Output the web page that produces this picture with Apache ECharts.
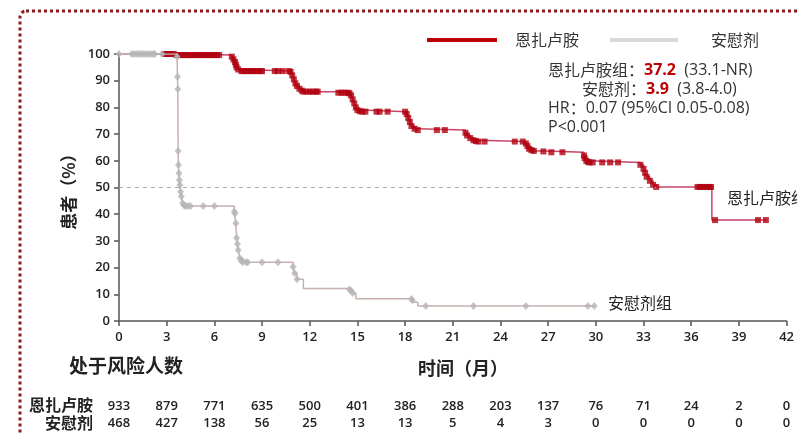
<!DOCTYPE html>
<html>
<head>
<meta charset="utf-8">
<script src="https://cdn.jsdelivr.net/npm/echarts@6/dist/echarts.min.js"></script>
<style>
html,body{margin:0;padding:0;background:#fff;}
#c{width:797px;height:434px;}
</style>
</head>
<body>
<div id="c"></div>
<script>
// ---------- DATA ----------
const xTicks = [0,3,6,9,12,15,18,21,24,27,30,33,36,39,42];
const riskEnza = [933,879,771,635,500,401,386,288,203,137,76,71,24,2,0];
const riskPlacebo = [468,427,138,56,25,13,13,5,4,3,0,0,0,0,0];

// Kaplan-Meier steps [month, % event-free after step]
const enzaCurve = [
  [0,100],[3.6,99.6],[7.1,99],[7.2,98],[7.3,97],[7.35,96],[7.4,95],[7.5,94.2],[7.7,93.6],
  [10.8,93],[10.9,92],[11.0,90.5],[11.1,89],[11.2,88],[11.35,87],[11.6,85.9],
  [14.3,85.5],[14.6,84.5],[14.7,83],[14.8,81.5],[14.9,80],[15.0,79],[15.3,78.4],
  [18.1,77.5],[18.2,76],[18.3,74.5],[18.4,73],[18.6,72],[18.8,71.5],
  [21.8,70.5],[21.9,69.5],[22.1,68.5],[22.3,67.7],[22.6,67.2],
  [25.6,66.5],[25.7,65.5],[25.8,64.5],[26.1,63.7],[26.8,63.2],
  [29.25,62],[29.3,61],[29.4,60],[29.6,59.4],
  [32.8,58.5],[33.0,57],[33.1,55.5],[33.2,54],[33.4,52.5],[33.6,51],[33.8,50.2],
  [37.3,37.8],[40.7,37.8]
];
const enzaMarks = [
  [2.85,100],[3.0,100],[3.15,100],[3.3,100],[3.45,100],[3.6,99.6],[3.75,99.6],[3.9,99.6],[4.05,99.6],
  [4.2,99.6],[4.35,99.6],[4.5,99.6],[4.65,99.6],[4.8,99.6],[4.95,99.6],[5.1,99.6],[5.25,99.6],
  [5.4,99.6],[5.55,99.6],[5.7,99.6],[5.85,99.6],[6.0,99.6],[6.15,99.6],[6.3,99.6],
  [7.1,99],[7.2,98],[7.3,97],[7.35,96],[7.4,95],[7.5,94.2],[7.7,93.6],[7.85,93.6],[8.0,93.6],
  [8.15,93.6],[8.3,93.6],[8.45,93.6],[8.6,93.6],[8.75,93.6],[8.9,93.6],[9.0,93.6],
  [9.8,93.6],[10.0,93.6],[10.3,93.6],[10.7,93.6],[10.8,93.3],
  [10.9,92],[11.0,90.5],[11.1,89],[11.2,88],[11.35,87],[11.5,86.3],[11.6,85.9],[11.8,85.9],[12.0,85.9],
  [12.2,85.9],[12.4,85.9],[12.5,85.9],[13.8,85.5],[14.0,85.5],[14.2,85.5],[14.4,85.5],[14.5,85.3],
  [14.6,84.5],[14.7,83],[14.8,81.5],[14.9,80],[15.0,79],[15.15,78.6],[15.3,78.4],[15.5,78.4],
  [16.2,78.4],[16.4,78.4],[16.9,78.4],
  [18.0,78.4],[18.1,77.5],[18.2,76],[18.3,74.5],[18.4,73],[18.6,72],[18.8,71.5],[20.0,71.5],[20.5,71.5],
  [21.8,70.5],[21.9,69.5],[22.1,68.5],[22.3,67.7],[22.45,67.4],[22.6,67.2],[23.0,67.2],[24.9,67.2],[25.4,67.2],
  [25.6,66.5],[25.7,65.5],[25.8,64.5],[25.95,64],[26.1,63.7],[26.7,63.5],[27.2,63.2],[27.9,63.2],
  [29.25,62],[29.3,61],[29.4,60],[29.5,59.6],[29.6,59.4],[29.8,59.4],[30.4,59.4],[30.9,59.4],[31.4,59.4],
  [32.8,58.5],[33.0,57],[33.1,55.5],[33.2,54],[33.4,52.5],[33.6,51],[33.8,50.2],
  [36.4,50.2],[36.55,50.2],[36.7,50.2],[36.85,50.2],[37.0,50.2],[37.15,50.2],[37.25,50.2],
  [37.5,37.8],[40.2,37.8],[40.7,37.8]
];
const placeboCurve = [
  [0,100],[3.65,99],[3.68,91.5],[3.7,86.9],[3.72,63.7],[3.74,58.4],[3.77,55.3],[3.8,52.8],
  [3.83,50.9],[3.87,48.4],[3.92,46.6],[4.0,44.1],[4.1,43.1],
  [7.25,41],[7.3,40.3],[7.35,36.6],[7.4,31.1],[7.45,28.8],[7.5,26.6],[7.6,23.5],[7.8,22.0],
  [10.95,20.3],[11.05,17.9],[11.2,15.6],[11.6,12.2],
  [14.5,11.5],[14.7,10.5],[14.9,8.3],
  [18.5,7],[18.8,5.6],[29.9,5.6]
];
const placeboMarks = [
  [0,100],[0.8,100],[0.95,100],[1.1,100],[1.25,100],[1.4,100],[1.55,100],[1.7,100],[1.85,100],
  [2.0,100],[2.15,100],[2.25,100],[2.7,100],[3.65,99],
  [3.68,91.5],[3.7,86.9],[3.72,63.7],[3.74,58.4],[3.77,55.3],[3.8,52.8],[3.83,50.9],[3.87,48.4],
  [3.92,46.6],[4.0,44.1],[4.1,43.3],[4.2,43.1],[4.35,43.1],[4.5,43.1],[5.3,43.1],[6.0,43.1],
  [7.25,41],[7.3,40.3],[7.35,36.6],[7.4,31.1],[7.45,28.8],[7.5,26.6],[7.6,23.5],[7.7,22.5],
  [7.8,22.0],[8.0,22.0],[8.1,22.0],[9.0,22.0],[10.0,22.0],
  [10.95,20.3],[11.05,17.9],[11.2,15.6],
  [14.5,11.8],[14.6,11.3],[14.7,10.5],[18.4,8.2],[18.45,7.8],
  [19.3,5.6],[22.3,5.6],[25.6,5.6],[29.5,5.6],[29.9,5.6]
];
const refLine = 50;

// ---------- CHART ----------
const cjk = '"Noto Sans CJK SC", "Noto Sans", sans-serif';
const num = '"Open Sans", "Noto Sans", sans-serif';
const chart = echarts.init(document.getElementById('c'), null, {renderer:'canvas'});

const option = {
  backgroundColor:'#ffffff',
  animation:false,
  grid:{left:119, right:9, top:54, bottom:113},
  xAxis:{
    type:'value', min:0, max:42, interval:3,
    axisLine:{show:true, lineStyle:{color:'#555', width:1.5}},
    axisTick:{show:true, length:5, lineStyle:{color:'#555', width:1.5}},
    axisLabel:{color:'#222', fontFamily:num, fontSize:13, fontWeight:600, margin:10},
    splitLine:{show:false}
  },
  yAxis:{
    type:'value', min:0, max:100, interval:10,
    name:'患者（%）', nameLocation:'middle', nameRotate:90, nameGap:41,
    nameTextStyle:{color:'#222', fontFamily:cjk, fontSize:17, fontWeight:'bold'},
    axisLine:{show:true, lineStyle:{color:'#555', width:1.5}},
    axisTick:{show:true, length:5, lineStyle:{color:'#555', width:1.5}},
    axisLabel:{color:'#222', fontFamily:num, fontSize:13, fontWeight:600, margin:9},
    splitLine:{show:false}
  },
  series:[
    {
      name:'恩扎卢胺', type:'line', step:'end', data:enzaCurve, showSymbol:false,
      lineStyle:{color:'#c8456a', width:1.5}, z:3,
      markLine:{
        silent:true, symbol:'none', label:{show:false},
        lineStyle:{color:'#aaaaaa', type:[4,4], width:1},
        data:[[{coord:[0,refLine]},{coord:[33.8,refLine]}]]
      }
    },
    {
      name:'恩扎卢胺删失', type:'scatter', data:enzaMarks, symbol:'rect', symbolSize:6,
      itemStyle:{color:'#b0000f'}, z:4
    },
    {
      name:'安慰剂', type:'line', step:'end', data:placeboCurve, showSymbol:false,
      lineStyle:{color:'#cbb0ae', width:1.5}, z:5
    },
    {
      name:'安慰剂删失', type:'scatter', data:placeboMarks, symbol:'diamond', symbolSize:[7,8],
      itemStyle:{color:'#b5b5b5'}, z:6
    }
  ]
};
chart.setOption(option);

// ---------- GRAPHICS (legend, annotations, risk table) ----------
const g = [];
// dotted border
g.push({type:'rect', shape:{x:20, y:11, width:820, height:460, r:6},
  style:{fill:'none', stroke:'#8e1b1b', lineWidth:3, lineDash:[3,3]}, silent:true, z:0});
// legend
g.push({type:'rect', shape:{x:427, y:38, width:70, height:4}, style:{fill:'#c00000'}});
g.push({type:'text', x:515, y:40, style:{text:'恩扎卢胺', font:'16px '+cjk, fill:'#333', textVerticalAlign:'middle'}});
g.push({type:'rect', shape:{x:610, y:38, width:68, height:4}, style:{fill:'#d9d9d9'}});
g.push({type:'text', x:711, y:40, style:{text:'安慰剂', font:'16px '+cjk, fill:'#333', textVerticalAlign:'middle'}});
// annotation
const rich = {
  n:{fontFamily:cjk, fontSize:16, fill:'#333', color:'#333'},
  m:{fontFamily:num, fontSize:16, fill:'#333', color:'#333'},
  r:{fontFamily:num, fontSize:16, fontWeight:'bold', fill:'#c00000', color:'#c00000'}
};
g.push({type:'text', x:548, y:70, style:{text:'{n|恩扎卢胺组：}{r|37.2}{m|  (33.1-NR)}', rich:rich, textVerticalAlign:'middle'}});
g.push({type:'text', x:582, y:89, style:{text:'{n|安慰剂：}{r|3.9}{m|  (3.8-4.0)}', rich:rich, textVerticalAlign:'middle'}});
g.push({type:'text', x:548, y:108, style:{text:'{m|HR}{n|：}{m|0.07 (95%CI 0.05-0.08)}', rich:rich, textVerticalAlign:'middle'}});
g.push({type:'text', x:548, y:127, style:{text:'{m|P<0.001}', rich:rich, textVerticalAlign:'middle'}});
// curve labels
g.push({type:'text', x:727, y:198, style:{text:'恩扎卢胺组', font:'16px '+cjk, fill:'#222', textVerticalAlign:'middle'}});
g.push({type:'text', x:608, y:303, style:{text:'安慰剂组', font:'16px '+cjk, fill:'#222', textVerticalAlign:'middle'}});
// titles
g.push({type:'text', x:418, y:368, style:{text:'时间（月）', font:'bold 18px '+cjk, fill:'#222', textVerticalAlign:'middle'}});
g.push({type:'text', x:69, y:366, style:{text:'处于风险人数', font:'bold 19px '+cjk, fill:'#222', textVerticalAlign:'middle'}});
// risk table
g.push({type:'text', x:93, y:405, style:{text:'恩扎卢胺', font:'bold 16px '+cjk, fill:'#222', textAlign:'right', textVerticalAlign:'middle'}});
g.push({type:'text', x:93, y:423, style:{text:'安慰剂', font:'bold 16px '+cjk, fill:'#222', textAlign:'right', textVerticalAlign:'middle'}});
xTicks.forEach(function(t, i){
  const px = chart.convertToPixel({xAxisIndex:0}, t);
  g.push({type:'text', x:px, y:406, style:{text:String(riskEnza[i]), font:'600 13px '+num, fill:'#222', textAlign:'center', textVerticalAlign:'middle'}});
  g.push({type:'text', x:px, y:423, style:{text:String(riskPlacebo[i]), font:'600 13px '+num, fill:'#222', textAlign:'center', textVerticalAlign:'middle'}});
});
chart.setOption({graphic:{elements:g}});
</script>
</body>
</html>
